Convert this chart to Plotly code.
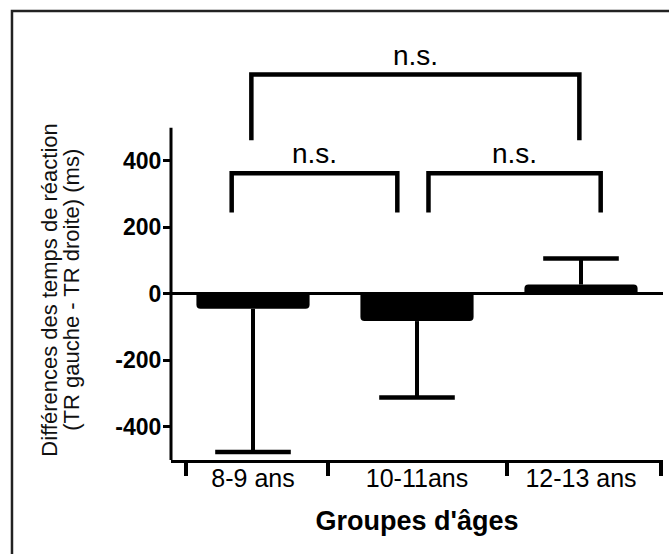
import plotly.graph_objects as go

# Mean left-right reaction-time difference per age group, with one-sided SD
groups = ["8-9 ans", "10-11ans", "12-13 ans"]
mean_diff = [-45, -82, 28]
err_up = [0, 0, 78]
err_down = [431, 230, 0]

# Pairwise comparisons: (left x, right x, leg bottom, bracket top, label)
comparisons = [
    (-0.13, 0.88, 245, 363, "n.s."),
    (1.07, 2.12, 245, 363, "n.s."),
    (-0.01, 1.99, 462, 660, "n.s."),
]

y_ticks = [-400, -200, 0, 200, 400]
group_edges = [-0.41, 0.46, 1.55, 2.49]

FONT = "Liberation Sans, Arial, Helvetica, sans-serif"

xs = list(range(len(groups)))
whisker_end = [m + u - d for m, u, d in zip(mean_diff, err_up, err_down)]

fig = go.Figure()
fig.add_trace(go.Bar(
    x=xs, y=mean_diff, width=0.69,
    marker=dict(color="black", line=dict(width=0), cornerradius=4),
    showlegend=False, hoverinfo="skip",
))

# one-sided whiskers from the bar end, capped only at the far end
wx, wy = [], []
for x, m, e in zip(xs, mean_diff, whisker_end):
    wx += [x, x, None]
    wy += [m, e, None]
fig.add_trace(go.Scatter(
    x=wx, y=wy, mode="lines", line=dict(color="black", width=4),
    showlegend=False, hoverinfo="skip",
))
fig.add_trace(go.Scatter(
    x=xs, y=whisker_end, mode="markers",
    marker=dict(symbol="line-ew", size=54, line=dict(color="black", width=4.5)),
    showlegend=False, hoverinfo="skip",
))

shapes = []
annotations = []
for x0, x1, leg, top, label in comparisons:
    shapes.append(dict(
        type="path", xref="x", yref="y",
        path=f"M {x0},{leg} L {x0},{top} L {x1},{top} L {x1},{leg}",
        line=dict(color="black", width=4.5),
    ))
    annotations.append(dict(
        x=(x0 + x1) / 2, y=top, xref="x", yref="y",
        text=label, showarrow=False, yanchor="bottom", yshift=2,
        font=dict(family=FONT, size=28, color="black"),
    ))

# y axis line limited to the data range
shapes.append(dict(type="line", xref="paper", yref="y", x0=0, x1=0, y0=-500, y1=500,
                   line=dict(color="black", width=3)))
# outer frame
shapes.append(dict(type="rect", xref="paper", yref="paper",
                   x0=-0.3232, x1=1.03, y0=-0.25, y1=1.0205,
                   line=dict(color="#222222", width=2.5)))

# two-line y title
for xp, line in [(-0.247, "Différences des temps de réaction"),
                 (-0.202, "(TR gauche - TR droite) (ms)")]:
    annotations.append(dict(
        x=xp, y=0.386, xref="paper", yref="paper", text=line, textangle=-90,
        showarrow=False, xanchor="center", yanchor="middle",
        font=dict(family=FONT, size=22, color="#111111"),
    ))

fig.update_layout(
    width=669, height=554,
    margin=dict(l=171, r=6, t=20, b=94),
    paper_bgcolor="white", plot_bgcolor="white",
    shapes=shapes, annotations=annotations,
)
fig.update_xaxes(
    range=[-0.5, 2.5], tickmode="array", tickvals=xs, ticktext=groups,
    ticks="", showline=True, linecolor="black", linewidth=3, showgrid=False, zeroline=False,
    tickfont=dict(family=FONT, size=25, color="black"), ticklabelstandoff=-6,
    minor=dict(tickmode="array", tickvals=group_edges, ticks="outside", ticklen=13,
               tickwidth=4, tickcolor="black", showgrid=False),
    title=dict(text="<b>Groupes d'âges</b>", font=dict(family=FONT, size=27, color="black"),
               standoff=21),
)
fig.update_yaxes(
    range=[-500, 824], tickmode="array", tickvals=y_ticks,
    ticktext=[f"<b>{v}</b>" for v in y_ticks],
    ticks="outside", ticklen=7, tickwidth=3, tickcolor="black",
    showline=False, showgrid=False, ticklabelstandoff=-3,
    zeroline=True, zerolinecolor="black", zerolinewidth=2.5,
    tickfont=dict(family=FONT, size=23, color="black"),
)

fig.write_html("out.html")
